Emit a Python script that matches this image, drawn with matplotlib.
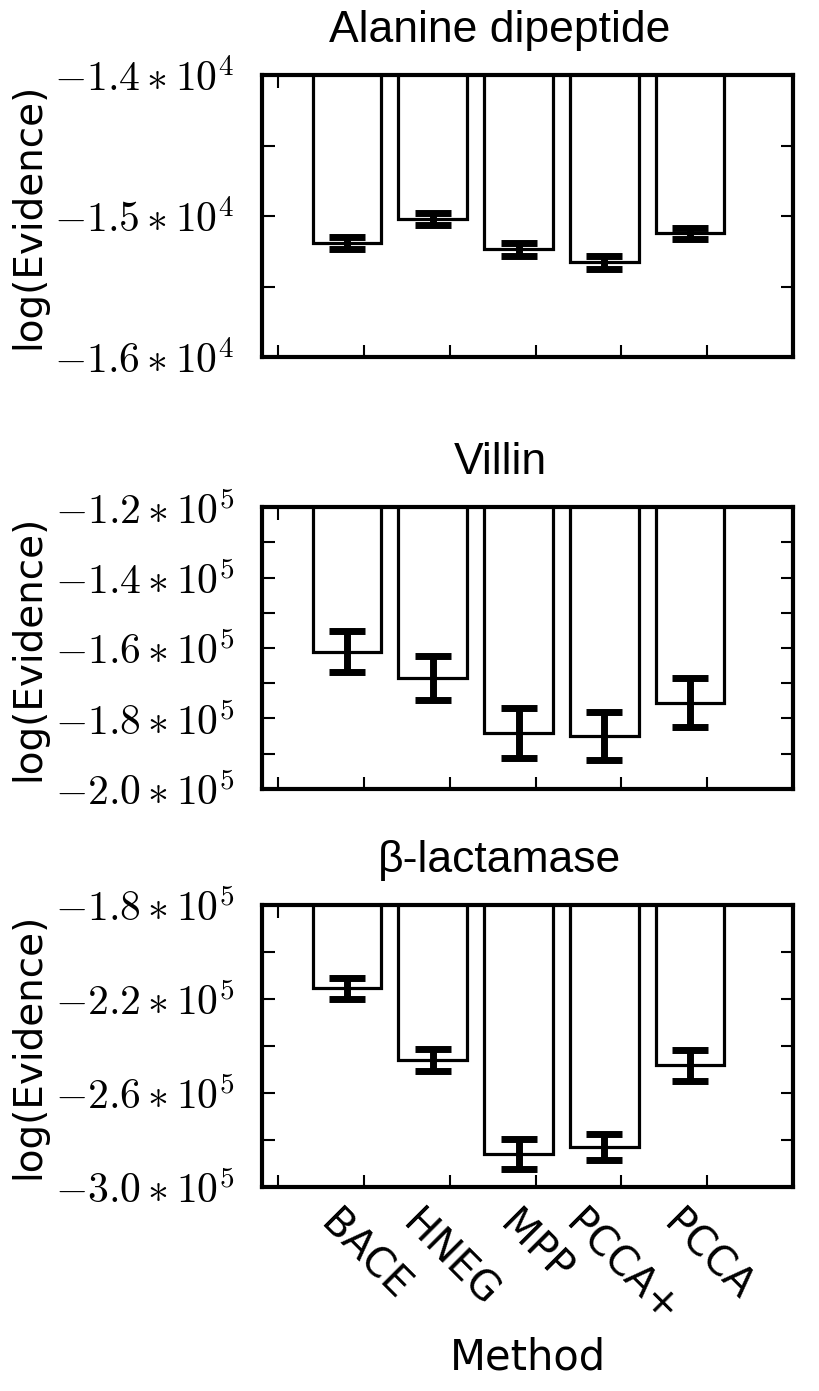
import numpy as np
import matplotlib
matplotlib.use("Agg")
import matplotlib.pyplot as plt
from matplotlib.ticker import FixedLocator, FuncFormatter

plt.rcParams['mathtext.fontset'] = 'cm'
plt.rcParams['font.family'] = ['DejaVu Sans']

methods = ['BACE', 'HNEG', 'MPP', 'PCCA+', 'PCCA']
titles = ['Alanine dipeptide', 'Villin', 'β-lactamase']

ala_vals = [-15191, -15021, -15236, -15328, -15123]
ala_errs = [40, 41, 46, 44, 41]
villin_vals = [-161000, -168400, -184100, -184900, -175500]
villin_errs = [5700, 6260, 6970, 6830, 6970]
blac_vals = [-215400, -245800, -285900, -282900, -248300]
blac_errs = [4480, 4700, 6400, 5550, 6400]

all_vals = [ala_vals, villin_vals, blac_vals]
all_errs = [ala_errs, villin_errs, blac_errs]
ylims = [(-16000, -14000), (-200000, -120000), (-300000, -180000)]
major_steps = [1000, 20000, 40000]
exponents = [4, 5, 5]


def sci_formatter(exp):
    def fmt(v, pos):
        return r'$-%.1f\ast10^{%d}$' % (abs(v) / 10 ** exp, exp)
    return FuncFormatter(fmt)


fig = plt.figure(figsize=(8.19, 13.91), dpi=100)
axes_boxes = [(0.3199, 0.7433, 0.6484, 0.2027),
              (0.3199, 0.4328, 0.6484, 0.2027),
              (0.3199, 0.1467, 0.6484, 0.2027)]

x = np.arange(len(methods)) + 0.8

for i in range(3):
    ax = fig.add_axes(axes_boxes[i])
    ax.bar(x, all_vals[i], width=0.8, color='white', edgecolor='black',
           linewidth=2.3, zorder=2)
    ax.errorbar(x, all_vals[i], yerr=all_errs[i], fmt='none', ecolor='black',
                elinewidth=5, capsize=13, capthick=5, zorder=3)
    ax.set_xlim(-0.19, 6.0)
    lo, hi = ylims[i]
    step = major_steps[i]
    ax.set_ylim(lo, hi)
    ax.yaxis.set_major_locator(FixedLocator(np.arange(lo, hi + 1, step)))
    ax.yaxis.set_minor_locator(FixedLocator(np.arange(lo, hi + 1, step / 2)))
    ax.yaxis.set_major_formatter(sci_formatter(exponents[i]))
    ax.set_xticks(np.arange(6))
    if i == 2:
        ax.set_xticklabels([''] + methods, rotation=-45, ha='center', fontsize=29)
        ax.set_xlabel('Method', fontsize=30)
        ax.xaxis.set_label_coords(0.5, -0.53)
    else:
        ax.set_xticklabels([])
    ax.tick_params(which='both', direction='in', top=True, right=True,
                   length=9, width=1.5)
    ax.tick_params(axis='y', which='major', labelsize=30, pad=20)
    ax.tick_params(axis='x', which='major', pad=12)
    for s in ax.spines.values():
        s.set_linewidth(3)
    ax.set_ylabel('log(Evidence)', fontsize=28)
    ax.yaxis.set_label_coords(-0.405, 0.5)
    ax.set_title(titles[i], fontsize=32, family='Liberation Sans', pad=24)
    ax.title.set_x(0.448)

fig.savefig('out.png', dpi=100)
